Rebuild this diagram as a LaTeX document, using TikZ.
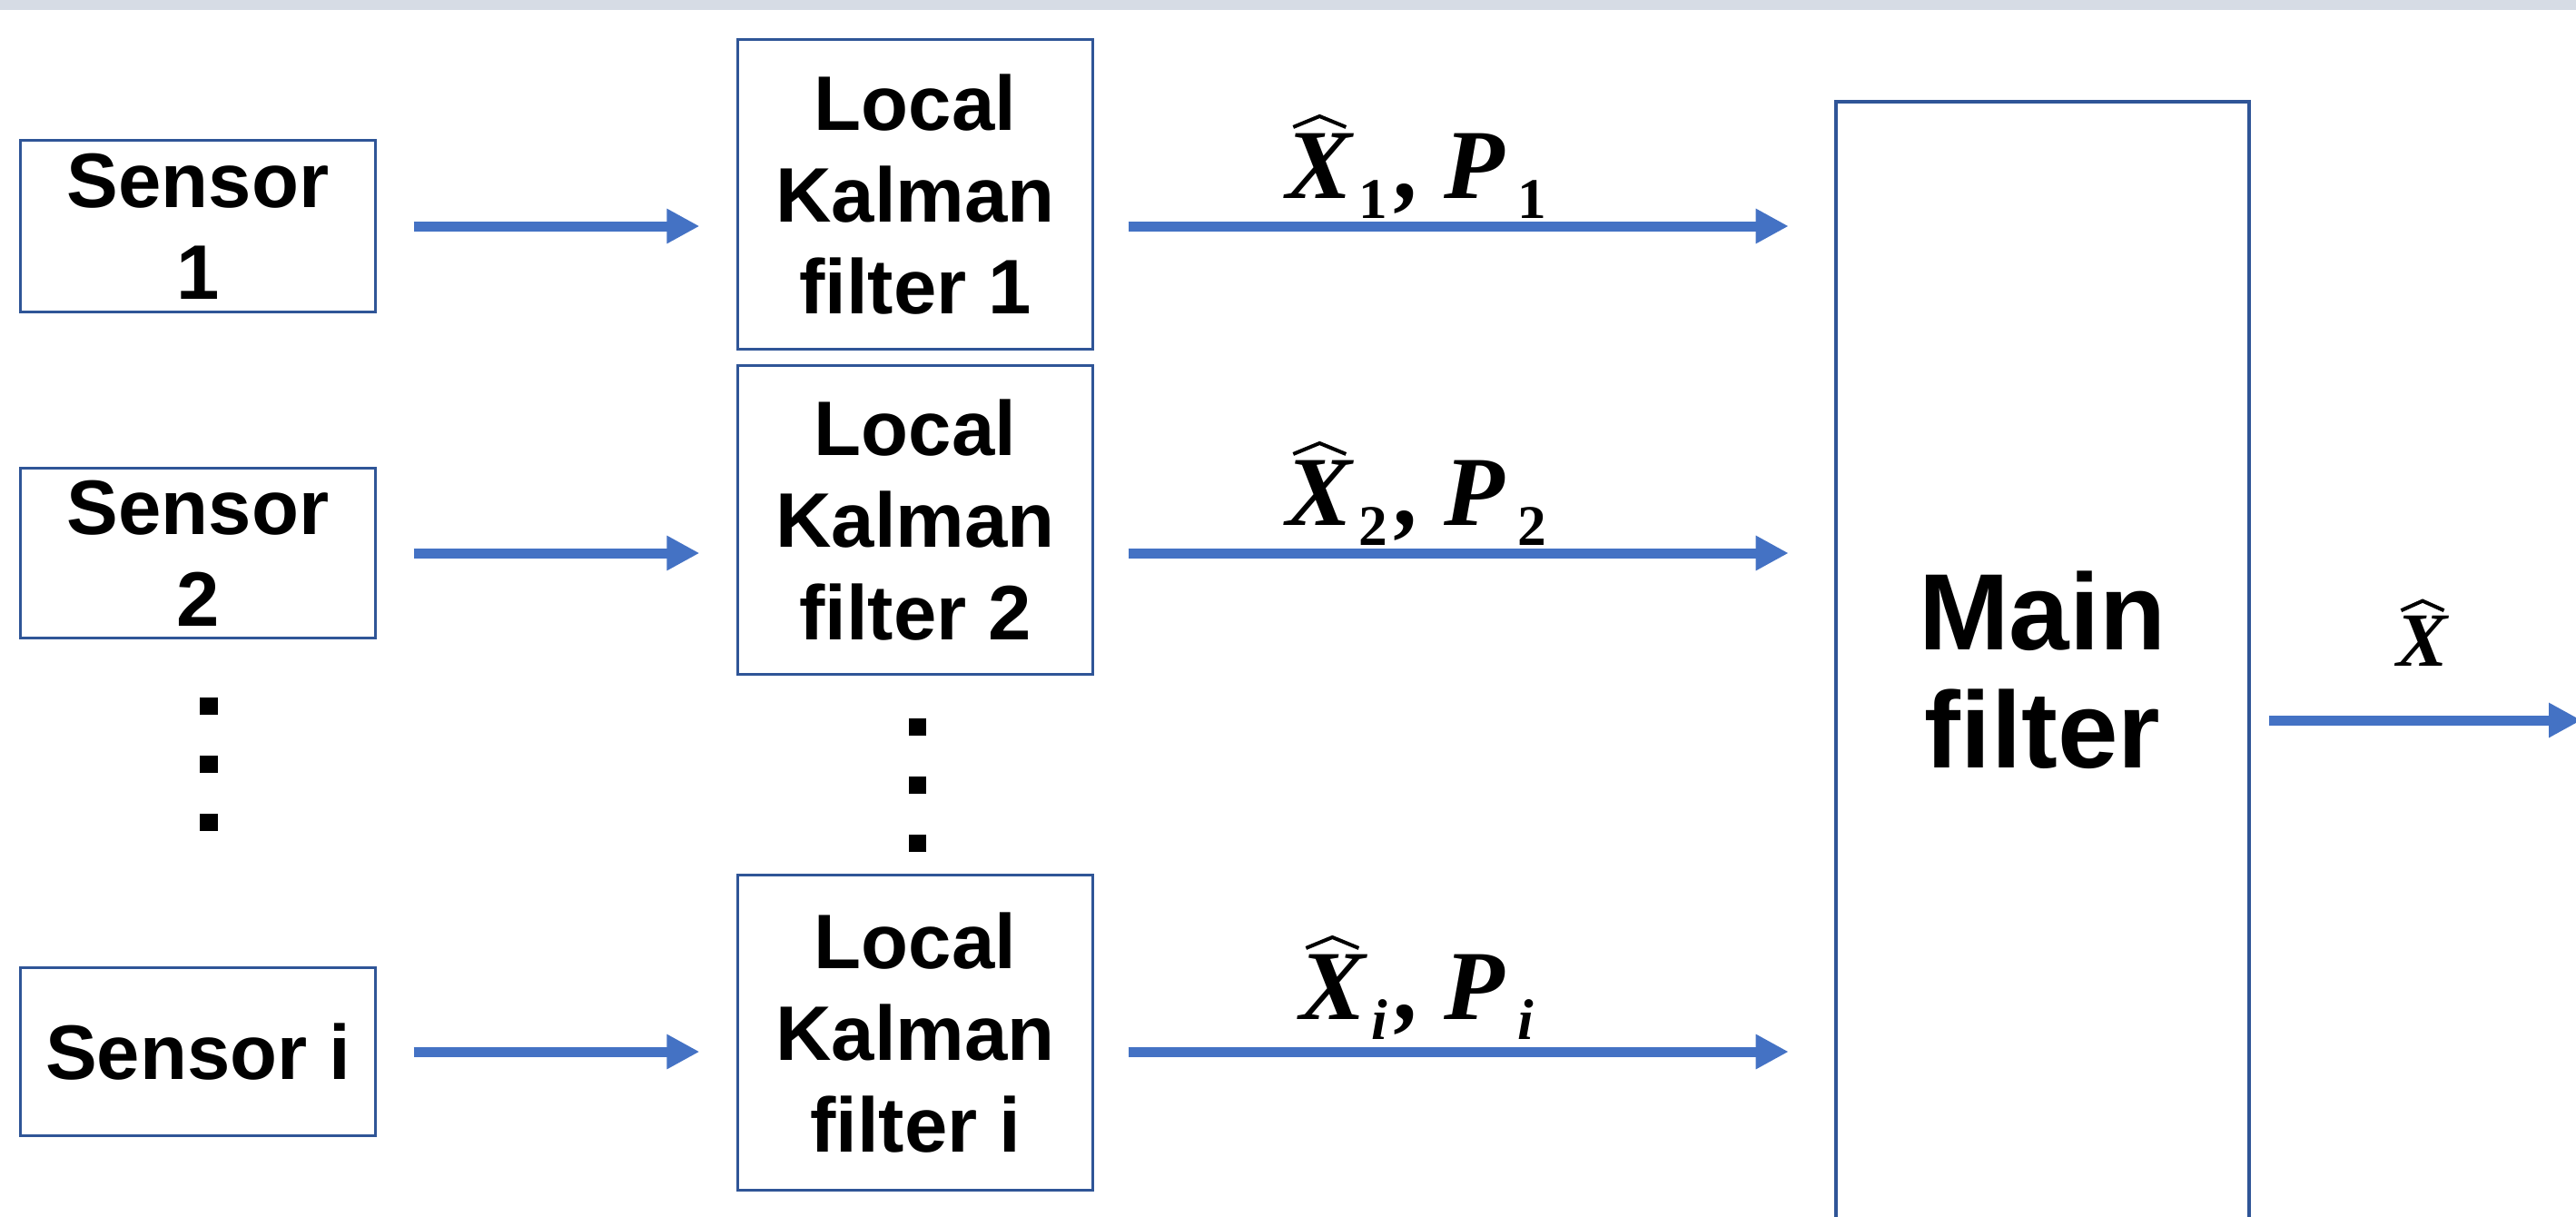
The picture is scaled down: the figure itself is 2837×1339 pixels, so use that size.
\documentclass[tikz,border=0pt]{standalone}
\usepackage{fontspec}
\setmainfont{Liberation Sans}
\newfontfamily\lblfont{Liberation Serif}
\usetikzlibrary{arrows.meta}
\definecolor{flowblue}{HTML}{4472C4}
\definecolor{boxblue}{HTML}{2F5597}
\definecolor{bandgrey}{HTML}{D6DCE5}
% wide hat over a box: #1 width, #2 height of its feet, #3 height of its apex
\newcommand{\hatover}[4]{\setbox0\hbox{#4}%
  \rlap{\hbox to \wd0{\hss\tikz[baseline=0pt]\draw[line width=1.15pt, line join=miter]
    (0pt,#2) -- ({#1/2},#3) -- (#1,#2);\hss}}\box0}
% estimate symbols: bold italic serif letter with a wide hat, lowered subscripts
\newcommand{\lblsub}[1]{\raisebox{-6.3pt}{\fontsize{18}{18}\selectfont #1}}
\newcommand{\estpair}[1]{{\fontsize{31}{31}\selectfont\lblfont\bfseries\itshape
  \hatover{16.5pt}{22.2pt}{25.6pt}{X}\kern2pt\lblsub{#1}\kern3pt,\kern7pt P\kern4pt\lblsub{#1}}}
\begin{document}
\begin{tikzpicture}[x=0.01cm,y=-0.01cm,
  block/.style={draw=boxblue, line width=0.85pt, inner sep=0pt, align=center,
    font=\fontsize{24.2}{28.8}\selectfont\bfseries, text=black},
  unitbox/.style={block, minimum width=3.9cm},
  flow/.style={draw=flowblue, line width=0.11cm, -{Triangle[length=0.36cm,width=0.36cm]}},
  estlabel/.style={anchor=base, inner sep=0pt},
  dotmark/.style={fill=black, minimum size=0.19cm, inner sep=0pt}
]
\useasboundingbox (0,0) rectangle (2837,1339);
% header band
\fill[bandgrey] (0,0) rectangle (2837,11);

% sensors
\node[unitbox, minimum height=1.88cm] (s1) at (218,249) {Sensor\\1};
\node[unitbox, minimum height=1.86cm] (s2) at (218,609) {Sensor\\2};
\node[unitbox, minimum height=1.84cm] (si) at (218,1158) {Sensor i};

% local Kalman filters
\node[unitbox, minimum height=3.40cm] (k1) at (1008,214) {Local\\Kalman\\filter 1};
\node[unitbox, minimum height=3.39cm] (k2) at (1008,572.5) {Local\\Kalman\\filter 2};
\node[unitbox, minimum height=3.46cm] (ki) at (1008,1137) {Local\\Kalman\\filter i};

% main filter
\node[block, line width=1.2pt, minimum width=4.55cm, minimum height=12.52cm,
  font=\fontsize{34}{37}\selectfont\bfseries] (main) at (2249.5,738) {Main\\filter};

% vertical ellipses
\node[dotmark] (sd1) at (230,777) {};
\node[dotmark] (sd2) at (230,841) {};
\node[dotmark] (sd3) at (230,905) {};
\node[dotmark] (kd1) at (1010,800) {};
\node[dotmark] (kd2) at (1010,864) {};
\node[dotmark] (kd3) at (1010,928) {};

% sensor -> local filter
\draw[flow, shorten <=0.41cm, shorten >=0.41cm] (s1.east) -- (s1.east -| k1.west);
\draw[flow, shorten <=0.41cm, shorten >=0.41cm] (s2.east) -- (s2.east -| k2.west);
\draw[flow, shorten <=0.41cm, shorten >=0.41cm] (si.east) -- (si.east -| ki.west);

% local filter -> main filter
\draw[flow, shorten <=0.38cm, shorten >=0.50cm] (s1.east -| k1.east) -- (s1.east -| main.west);
\draw[flow, shorten <=0.38cm, shorten >=0.50cm] (s2.east -| k2.east) -- (s2.east -| main.west);
\draw[flow, shorten <=0.38cm, shorten >=0.50cm] (si.east -| ki.east) -- (si.east -| main.west);

% estimates
\node[estlabel] (l1) at (1560,218) {\estpair{\upshape 1}};
\node[estlabel] (l2) at (1560,578) {\estpair{\upshape 2}};
\node[estlabel] (li) at (1560,1122) {\estpair{i}};

% fused output
\coordinate (outend) at (2843,793);
\draw[flow, shorten <=0.20cm] (main.east |- outend) -- (outend);
\node[estlabel] (lo) at (2668,733)
  {{\fontsize{24}{24}\selectfont\lblfont\bfseries\itshape\hatover{13.4pt}{17.3pt}{20.3pt}{X}}};
\end{tikzpicture}
\end{document}
